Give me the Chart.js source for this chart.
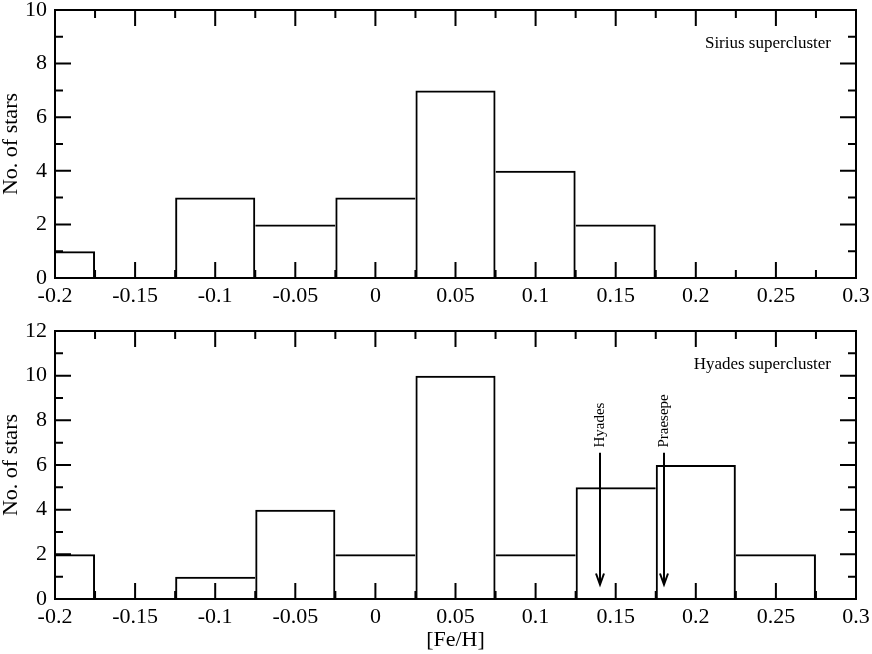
<!DOCTYPE html>
<html><head><meta charset="utf-8">
<script src="https://cdn.jsdelivr.net/npm/chart.js@4.4.1/dist/chart.umd.min.js"></script>
<style>
html,body{margin:0;padding:0;background:#fff;}
#wrap{position:relative;width:872px;height:654px;background:#fff;}
#c1{position:absolute;left:0;top:0;}
#c2{position:absolute;left:0;top:320px;}
</style></head><body>
<div id="wrap"><canvas id="c1"></canvas><canvas id="c2"></canvas></div>
<script>
// ---- data ----
const binCenters = [-0.2, -0.15, -0.1, -0.05, 0, 0.05, 0.1, 0.15, 0.2, 0.25];
const siriusCounts = [1, 0, 3, 2, 3, 7, 4, 2, 0, 0];
const hyadesCounts = [2, 0, 1, 4, 2, 10, 2, 5, 6, 2];
const xTickLabels = ['-0.2', '-0.15', '-0.1', '-0.05', '0', '0.05', '0.1', '0.15', '0.2', '0.25', '0.3'];
const siriusYTickLabels = ['0', '2', '4', '6', '8', '10'];
const hyadesYTickLabels = ['0', '2', '4', '6', '8', '10', '12'];
const clusterNames = ['Hyades', 'Praesepe'];
const clusterFeH = [0.14, 0.18];
const panelTitles = ['Sirius supercluster', 'Hyades supercluster'];
const yTitle = 'No. of stars';
const xTitle = '[Fe/H]';

const FONT = '"Liberation Serif", "Times New Roman", serif';
Chart.defaults.font.family = FONT;
Chart.defaults.color = '#000';

function borderFor(counts) {
  return ctx => {
    const i = ctx.dataIndex, h = counts[i];
    if (!h) return 0;
    const prev = i > 0 ? counts[i - 1] : 0;
    const next = i < counts.length - 1 ? counts[i + 1] : 0;
    return {top: 2, bottom: 0, left: prev < h ? 2 : 0, right: next <= h ? 2 : 0};
  };
}

const framePlugin = {
  id: 'frame',
  afterDatasetsDraw(chart, args, opts) {
    const {ctx, chartArea: a, scales: {x, y}} = chart;
    ctx.save();
    ctx.strokeStyle = '#000';
    ctx.lineWidth = 2;
    ctx.beginPath();
    const seg = (x1, y1, x2, y2) => { ctx.moveTo(x1, y1); ctx.lineTo(x2, y2); };
    const xt = x.ticks.map(t => t.value);
    xt.forEach((v, i) => {
      const p = x.getPixelForValue(v);
      seg(p, a.bottom, p, a.bottom - 16); seg(p, a.top, p, a.top + 16);
      if (i < xt.length - 1) {
        const m = x.getPixelForValue((v + xt[i + 1]) / 2);
        seg(m, a.bottom, m, a.bottom - 8); seg(m, a.top, m, a.top + 8);
      }
    });
    const yt = y.ticks.map(t => t.value);
    yt.forEach((v, i) => {
      const p = y.getPixelForValue(v);
      seg(a.left, p, a.left + 16, p); seg(a.right, p, a.right - 16, p);
      if (i < yt.length - 1) {
        const m = y.getPixelForValue((v + yt[i + 1]) / 2);
        seg(a.left, m, a.left + 8, m); seg(a.right, m, a.right - 8, m);
      }
    });
    ctx.stroke();
    ctx.strokeRect(a.left, a.top, a.width, a.height);

    ctx.fillStyle = '#000';
    ctx.font = '17px ' + FONT;
    ctx.textAlign = 'right';
    ctx.textBaseline = 'middle';
    ctx.fillText(opts.label, a.right - 25, a.top + 34);

    if (opts.markers) {
      ctx.font = '15px ' + FONT;
      ctx.textAlign = 'left';
      opts.markers.names.forEach((name, i) => {
        const px = Math.round(x.getPixelForValue(opts.markers.values[i]));
        const yTop = y.getPixelForValue(6.55);
        const yTip = y.getPixelForValue(0.65);
        ctx.beginPath();
        ctx.moveTo(px, yTop); ctx.lineTo(px, yTip);
        ctx.moveTo(px - 4, yTip - 11); ctx.lineTo(px, yTip); ctx.lineTo(px + 4, yTip - 11);
        ctx.lineWidth = 2;
        ctx.stroke();
        ctx.save();
        ctx.translate(px, y.getPixelForValue(6.78));
        ctx.rotate(-Math.PI / 2);
        ctx.fillText(name, 0, 0);
        ctx.restore();
      });
    }
    ctx.restore();
  }
};

function makeChart(id, H, areaTop, areaBottom, counts, yLabels, label, markers, showXTitle) {
  const canvas = document.getElementById(id);
  canvas.style.width = '872px';
  canvas.style.height = H + 'px';
  canvas.width = 872; canvas.height = H;
  const xVals = xTickLabels.map(Number);
  const yVals = yLabels.map(Number);
  return new Chart(canvas, {
    type: 'bar',
    data: {
      datasets: [{
        data: binCenters.map((c, i) => ({x: c, y: counts[i]})),
        backgroundColor: 'rgba(0,0,0,0)',
        borderColor: '#000',
        borderWidth: borderFor(counts),
        borderSkipped: false,
        inflateAmount: 0,
        barPercentage: 1,
        categoryPercentage: 1,
        clip: 0
      }]
    },
    options: {
      responsive: false,
      animation: false,
      layout: {padding: {top: areaTop, right: 16, left: 0, bottom: 0}},
      plugins: {legend: {display: false}, tooltip: {enabled: false}, frame: {label, markers}},
      scales: {
        x: {
          type: 'linear', min: xVals[0], max: xVals[xVals.length - 1], offset: false,
          grid: {display: false, drawTicks: false, offset: false},
          border: {display: false},
          afterBuildTicks: s => { s.ticks = xVals.map(v => ({value: v})); },
          ticks: {color: '#000', font: {family: FONT, size: 22, lineHeight: 1}, padding: 7,
                  maxRotation: 0, autoSkip: false, callback: (v, i) => xTickLabels[i]},
          title: {display: showXTitle, text: xTitle, color: '#000',
                  font: {family: FONT, size: 22, lineHeight: 1}, padding: {top: 0, bottom: 3}},
          afterFit: s => { s.height = H - areaBottom; s.paddingLeft = 0; s.paddingRight = 0; }
        },
        y: {
          min: yVals[0], max: yVals[yVals.length - 1],
          grid: {display: false, drawTicks: false},
          border: {display: false},
          afterBuildTicks: s => { s.ticks = yVals.map(v => ({value: v})); },
          ticks: {color: '#000', font: {family: FONT, size: 22, lineHeight: 1}, padding: 8,
                  callback: (v, i) => yLabels[i]},
          title: {display: true, text: yTitle, color: '#000',
                  font: {family: FONT, size: 22, lineHeight: 1}, padding: 0},
          afterFit: s => { s.width = 55; s.paddingTop = 0; s.paddingBottom = 0; }
        }
      }
    },
    plugins: [framePlugin]
  });
}

makeChart('c1', 320, 10, 278, siriusCounts, siriusYTickLabels, panelTitles[0], null, false);
makeChart('c2', 334, 11, 279, hyadesCounts, hyadesYTickLabels, panelTitles[1],
          {names: clusterNames, values: clusterFeH}, true);
</script>
</body></html>
